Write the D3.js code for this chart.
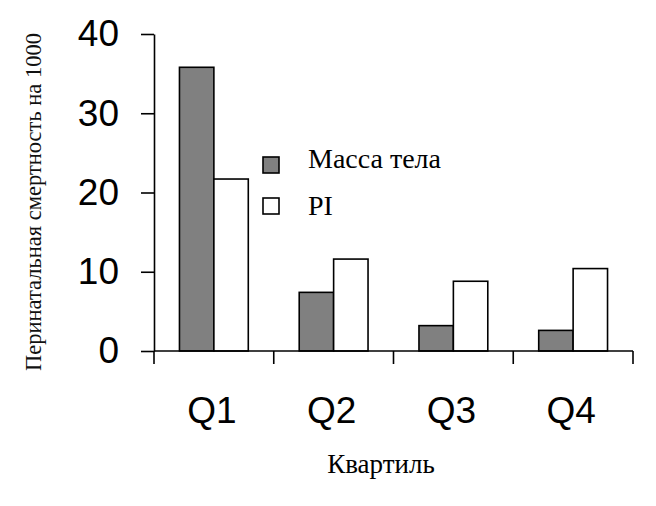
<!DOCTYPE html>
<html><head><meta charset="utf-8">
<script src="https://cdn.jsdelivr.net/npm/d3@7"></script>
<style>body{margin:0;background:#fff}</style>
</head><body>
<script>
const categories = ["Q1","Q2","Q3","Q4"];
const seriesNames = ["Масса тела","PI"];
const massValues = [35.8, 7.4, 3.2, 2.6];
const piValues = [21.7, 11.6, 8.8, 10.4];
const yTicks = [0,10,20,30,40];
const yLabel = "Перинатальная смертность на 1000";
const xLabel = "Квартиль";
const colors = ["#808080","#ffffff"];

const W=656,H=506;
const svg=d3.select("body").append("svg").attr("width",W).attr("height",H);
const x=d3.scaleBand().domain(categories).range([154,633]).padding(0);
const x1=d3.scaleBand().domain(seriesNames).range([0,x.bandwidth()]).paddingInner(0).paddingOuter(0.74);
const y=d3.scaleLinear().domain([0,40]).range([351,34]);

const data=categories.map((c,i)=>({c,vals:[massValues[i],piValues[i]]}));

// bars
const g=svg.append("g");
data.forEach(d=>{
  d.vals.forEach((v,j)=>{
    g.append("rect")
      .attr("x",x(d.c)+x1(seriesNames[j]))
      .attr("y",y(v))
      .attr("width",x1.bandwidth())
      .attr("height",y(0)-y(v))
      .attr("fill",colors[j]).attr("stroke","#000").attr("stroke-width",1.6);
  });
});

// y axis
const ya=svg.append("g").attr("transform","translate(154,0)")
  .call(d3.axisLeft(y).tickValues(yTicks).tickSize(13).tickPadding(22).tickSizeOuter(0));
ya.select(".domain").attr("stroke","#000").attr("stroke-width",1.6);
ya.selectAll(".tick line").attr("stroke","#000").attr("stroke-width",1.6);
ya.selectAll(".tick text").attr("font-family","Liberation Sans, Arial, sans-serif").attr("font-size",37).attr("fill","#000");

// x axis
const xa=svg.append("g").attr("transform","translate(0,351)");
xa.append("line").attr("x1",154).attr("x2",633).attr("y1",0).attr("y2",0).attr("stroke","#000").attr("stroke-width",1.6);
const xt=x.domain().map(c=>x(c)).concat([x.range()[1]]);
xa.selectAll("line.t").data(xt).enter().append("line").attr("class","t")
  .attr("x1",d=>d).attr("x2",d=>d).attr("y1",0).attr("y2",13).attr("stroke","#000").attr("stroke-width",1.6);
xa.selectAll("text").data(categories).enter().append("text")
  .attr("x",d=>x(d)+x.bandwidth()/2-2).attr("y",72).attr("text-anchor","middle")
  .attr("font-family","Liberation Sans, Arial, sans-serif").attr("font-size",37).attr("fill","#000").text(d=>d);

// axis titles
svg.append("text").attr("x",381).attr("y",473).attr("text-anchor","middle")
  .attr("font-family","Liberation Serif, Times New Roman, serif").attr("font-size",27).attr("fill","#000").text(xLabel);
svg.append("text").attr("transform","translate(41,202) rotate(-90)").attr("text-anchor","middle")
  .attr("font-family","Liberation Serif, Times New Roman, serif").attr("font-size",22.5).attr("fill","#111").text(yLabel);

// legend
const lg=svg.append("g");
seriesNames.forEach((s,j)=>{
  lg.append("rect").attr("x",263).attr("y",157+j*41).attr("width",16).attr("height",16)
    .attr("fill",colors[j]).attr("stroke","#000").attr("stroke-width",1.6);
  lg.append("text").attr("x",308).attr("y",168+j*47).attr("font-family","Liberation Serif, Times New Roman, serif")
    .attr("font-size",28).attr("fill","#000").text(s);
});
</script>
</body></html>
